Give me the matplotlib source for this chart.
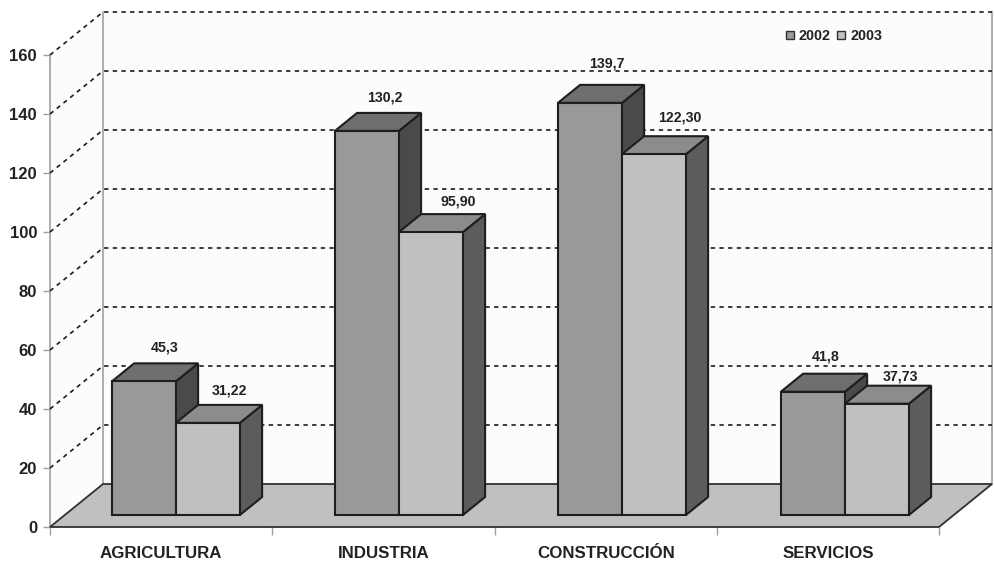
import matplotlib
matplotlib.use("Agg")
import matplotlib.pyplot as plt
from matplotlib.patches import Polygon, Patch

plt.rcParams['font.family'] = ['Liberation Sans', 'DejaVu Sans']

categories = ['AGRICULTURA', 'INDUSTRIA', 'CONSTRUCCIÓN', 'SERVICIOS']
values_2002 = [45.3, 130.2, 139.7, 41.8]
values_2003 = [31.22, 95.90, 122.30, 37.73]
labels_2002 = ['45,3', '130,2', '139,7', '41,8']
labels_2003 = ['31,22', '95,90', '122,30', '37,73']
y_ticks = [0, 20, 40, 60, 80, 100, 120, 140, 160]

# label nudges (px right, px above the top-back edge of the bar)
nudge_2002 = [(-1, 16), (-4, 15), (-5, 21), (-9, 17)]
nudge_2003 = [(-1, 14), (5, 13), (3.5, 19), (1, 9)]

W, H = 994, 563
L, R, T, B = 50, 939, 55, 527
fig = plt.figure(figsize=(W / 100, H / 100), dpi=100, facecolor='white')
ax = fig.add_axes([L / W, (H - B) / H, (R - L) / W, (B - T) / H])
ax.set_xlim(0, len(categories))
ax.set_ylim(0, y_ticks[-1])
ax.set_facecolor('none')
for s in ax.spines.values():
    s.set_visible(False)

px_x = len(categories) / (R - L)
px_y = y_ticks[-1] / (B - T)
DX, DY = 53 * px_x, 43 * px_y   # full chart depth


def proj(x, v, d=0.0):
    return (x + d * DX, v + d * DY)


def poly(pts, **kw):
    kw.setdefault('clip_on', False)
    ax.add_patch(Polygon(pts, closed=True, **kw))


xmax = len(categories)
ymax = y_ticks[-1]
WALL = '#fcfcfc'
EDGE = '#a0a0a0'
# walls
poly([proj(0, 0), proj(0, ymax), proj(0, ymax, 1), proj(0, 0, 1)], fc=WALL, ec='none', zorder=1)
poly([proj(0, 0, 1), proj(0, ymax, 1), proj(xmax, ymax, 1), proj(xmax, 0, 1)], fc=WALL, ec='none', zorder=1)
ax.plot(*zip(proj(0, 0), proj(0, ymax)), color=EDGE, lw=1.2, clip_on=False, zorder=2)
ax.plot(*zip(proj(0, 0, 1), proj(0, ymax, 1)), color=EDGE, lw=1.2, clip_on=False, zorder=2)
ax.plot(*zip(proj(xmax, 0, 1), proj(xmax, ymax, 1)), color=EDGE, lw=1.2, clip_on=False, zorder=2)

# gridlines
dash = dict(color='#1c1c1c', lw=1.2, dashes=(2.6, 2.6), clip_on=False, zorder=2)
for t in y_ticks[1:]:
    ax.plot(*zip(proj(0, t), proj(0, t, 1), proj(xmax, t, 1)), **dash)

# floor
poly([proj(0, 0), proj(xmax, 0), proj(xmax, 0, 1), proj(0, 0, 1)],
     fc='#c0c0c0', ec='#303030', lw=1.3, zorder=3, joinstyle='miter')

# bars
BAR_W = 64 * px_x
PITCH = 223 * px_x
D0, D1 = 12 / 43, 30 / 43
STROKE = dict(ec='#1e1e1e', lw=1.5, joinstyle='miter')


def bar3d(x0, val, front, top, side, z):
    x1 = x0 + BAR_W
    poly([proj(x1, 0, D0), proj(x1, val, D0), proj(x1, val, D1), proj(x1, 0, D1)],
         fc=side, zorder=z, **STROKE)
    poly([proj(x0, val, D0), proj(x1, val, D0), proj(x1, val, D1), proj(x0, val, D1)],
         fc=top, zorder=z, **STROKE)
    poly([proj(x0, 0, D0), proj(x1, 0, D0), proj(x1, val, D0), proj(x0, val, D0)],
         fc=front, zorder=z + 0.1, **STROKE)


def value_label(x0, val, text, nudge):
    ax.annotate(text, xy=proj(x0 + BAR_W / 2, val, D1),
                xytext=(nudge[0] * 0.72, nudge[1] * 0.72), textcoords='offset points',
                ha='center', va='center', fontsize=10.2, fontweight='bold',
                color='#222222', annotation_clip=False, zorder=20)


for i in range(len(categories)):
    c = 0.5 + i * PITCH
    bar3d(c - BAR_W, values_2002[i], '#999999', '#6e6e6e', '#4a4a4a', 5 + i)
    bar3d(c, values_2003[i], '#c0c0c0', '#8c8c8c', '#5c5c5c', 5.5 + i)
    value_label(c - BAR_W, values_2002[i], labels_2002[i], nudge_2002[i])
    value_label(c, values_2003[i], labels_2003[i], nudge_2003[i])

# axes ticks
ax.set_yticks(y_ticks)
ax.set_xticks(range(len(categories) + 1))
ax.set_xticklabels([])
ax.set_xticks([i + 0.5 for i in range(len(categories))], labels=categories, minor=True)
ax.tick_params(axis='y', length=5, width=1, color=EDGE, pad=4.3, labelsize=12, labelcolor='#222222')
ax.tick_params(axis='x', which='major', length=5.8, width=1, color=EDGE)
ax.tick_params(axis='x', which='minor', length=0, pad=13.5, labelsize=12.2, labelcolor='#222222')
for lab in ax.get_yticklabels() + ax.get_xticklabels(minor=True):
    lab.set_fontweight('bold')

# legend
handles = [Patch(fc='#999999', ec='#303030', lw=1), Patch(fc='#c0c0c0', ec='#303030', lw=1)]
leg = fig.legend(handles, ['2002', '2003'], ncol=2, frameon=False,
                 loc='center', bbox_to_anchor=(834 / W, 1 - 36 / H),
                 prop={'size': 10.3, 'weight': 'bold'},
                 handlelength=0.56, handleheight=0.56, handletextpad=0.35,
                 columnspacing=0.45, borderpad=0, labelcolor='#222222')
leg.set_zorder(30)

fig.savefig('out.png', dpi=100, facecolor='white')
